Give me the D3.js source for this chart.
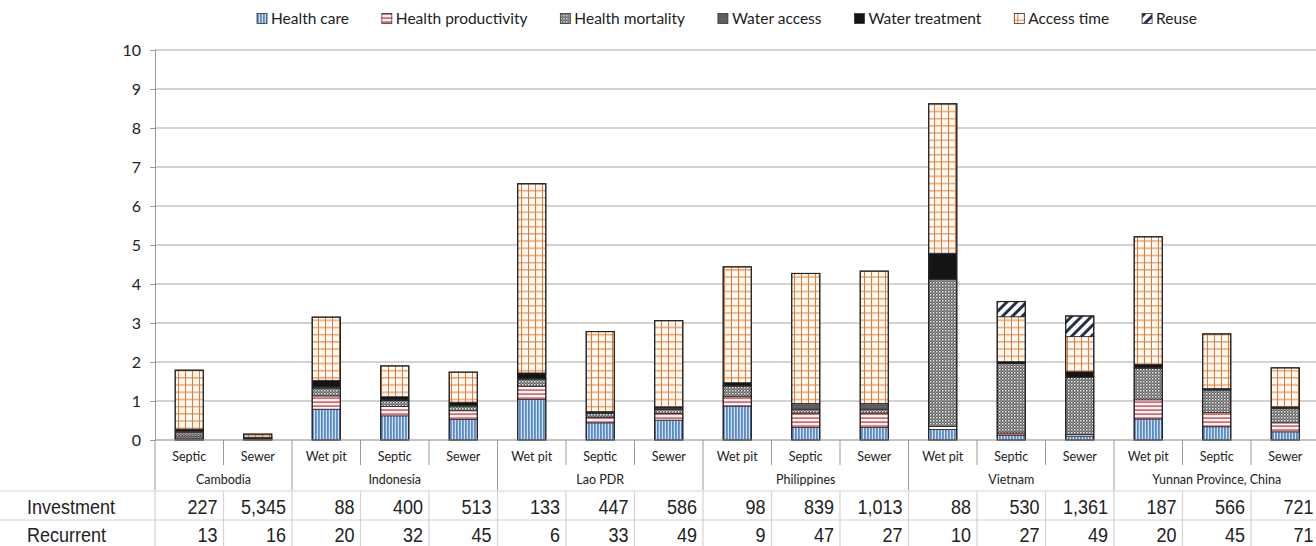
<!DOCTYPE html>
<html><head><meta charset="utf-8">
<script src="https://cdn.jsdelivr.net/npm/d3@7"></script>
<style>body{margin:0;background:#fff}svg{display:block}</style>
</head><body>
<svg id="c" width="1316" height="546"></svg>
<script>
const countries = ["Cambodia","Indonesia","Lao PDR","Philippines","Vietnam","Yunnan Province, China"];
const countryOf = [0,0,1,1,1,2,2,2,3,3,3,4,4,4,5,5,5];
const systems = ["Septic","Sewer","Wet pit","Septic","Sewer","Wet pit","Septic","Sewer","Wet pit","Septic","Sewer","Wet pit","Septic","Sewer","Wet pit","Septic","Sewer"];
const seriesNames = ["Health care","Health productivity","Health mortality","Water access","Water treatment","Access time","Reuse"];
const healthCare   = [0.05,0.01,0.79,0.62,0.53,1.04,0.44,0.51,0.87,0.32,0.32,0.27,0.12,0.10,0.54,0.34,0.21];
const healthProd   = [0.05,0.01,0.34,0.24,0.22,0.34,0.14,0.17,0.24,0.37,0.37,0.08,0.06,0.04,0.49,0.36,0.23];
const healthMort   = [0.10,0.01,0.20,0.15,0.12,0.18,0.10,0.10,0.27,0.10,0.10,3.77,1.78,1.47,0.81,0.58,0.37];
const waterAccess  = [0.03,0.01,0.03,0.02,0.02,0.02,0.02,0.04,0.02,0.15,0.15,0.00,0.00,0.00,0.02,0.02,0.02];
const waterTreat   = [0.05,0.03,0.17,0.08,0.08,0.14,0.03,0.03,0.07,0.00,0.00,0.67,0.05,0.14,0.08,0.02,0.02];
const accessTime   = [1.51,0.08,1.62,0.79,0.77,4.85,2.05,2.21,2.97,3.33,3.39,3.83,1.15,0.90,3.27,1.40,1.00];
const reuse        = [0,0,0,0,0,0,0,0,0,0,0,0,0.39,0.53,0,0,0];
const investment   = [227,5345,88,400,513,133,447,586,98,839,1013,88,530,1361,187,566,721];
const recurrent    = [13,16,20,32,45,6,33,49,9,47,27,10,27,49,20,45,71];
const yTicks = [0,1,2,3,4,5,6,7,8,9,10];
const rowLabels = ["Investment","Recurrent"];

const seriesValues = [healthCare,healthProd,healthMort,waterAccess,waterTreat,accessTime,reuse];
const keys = d3.range(seriesNames.length).map(String);
const table = systems.map((s,i)=>{const o={i}; seriesValues.forEach((arr,k)=>o[k]=arr[i]); return o;});

const svg = d3.select("#c");
const defs = svg.append("defs");
function pat(id,w,h,build){const p=defs.append("pattern").attr("id",id).attr("patternUnits","userSpaceOnUse").attr("width",w).attr("height",h);build(p);}
pat("p0",3,3,p=>{p.append("rect").attr("width",3).attr("height",3).attr("fill","#cfe1f4");p.append("rect").attr("x",0).attr("width",1.8).attr("height",3).attr("fill","#5a8bc6");});
pat("p1",4,4,p=>{p.append("rect").attr("width",4).attr("height",4).attr("fill","#fff");p.append("rect").attr("y",1.3).attr("width",4).attr("height",1.6).attr("fill","#e5545a");});
pat("p2",3,3,p=>{p.append("rect").attr("width",3).attr("height",3).attr("fill","#5a5a5a");p.append("rect").attr("x",0).attr("y",0).attr("width",1.5).attr("height",1.5).attr("fill","#f0f0f0");p.append("rect").attr("x",1.5).attr("y",1.5).attr("width",1.5).attr("height",1.5).attr("fill","#9a9a9a");});
pat("p3",4,4,p=>{p.append("rect").attr("width",4).attr("height",4).attr("fill","#5e5e5e");});
pat("p4",4,4,p=>{p.append("rect").attr("width",4).attr("height",4).attr("fill","#151515");});
pat("p5",7,7.2,p=>{p.append("rect").attr("width",7).attr("height",7.2).attr("fill","#fffaf4");p.append("rect").attr("x",3).attr("width",1).attr("height",7.2).attr("fill","#e8782f");p.append("rect").attr("y",3).attr("width",7).attr("height",1).attr("fill","#e8782f");});
const rp=defs.append("pattern").attr("id","p6").attr("patternUnits","userSpaceOnUse").attr("width",7).attr("height",7).attr("patternTransform","rotate(45)");
rp.append("rect").attr("width",7).attr("height",7).attr("fill","#fff");
rp.append("rect").attr("width",3).attr("height",7).attr("fill","#23304d");

const x = d3.scaleBand().domain(d3.range(systems.length)).range([155,1319.5]).paddingInner(0.59).paddingOuter(0.295);
const y = d3.scaleLinear().domain([0,10]).range([440,50]);

svg.append("g").selectAll("line").data(yTicks.filter(t=>t>0)).join("line")
  .attr("x1",155).attr("x2",1316).attr("y1",d=>y(d)).attr("y2",d=>y(d))
  .attr("stroke","#a6a6a6").attr("stroke-width",1.2);

const yAxis = svg.append("g").attr("transform","translate(155,0)").call(d3.axisLeft(y).tickValues(yTicks).tickSize(5).tickPadding(9));
yAxis.select(".domain").attr("stroke","#999");
yAxis.selectAll(".tick line").attr("stroke","#999");
yAxis.selectAll("text").attr("font-family","Lato, 'Open Sans', sans-serif").attr("font-size",16).attr("fill","#222");

const stack = d3.stack().keys(keys)(table);
svg.append("g").selectAll("g").data(stack).join("g")
  .attr("fill",(d,k)=>`url(#p${k})`)
  .selectAll("rect").data(d=>d.filter(s=>s[1]-s[0]>0)).join("rect")
  .attr("x",d=>x(d.data.i)).attr("width",x.bandwidth())
  .attr("y",d=>y(d[1])).attr("height",d=>y(d[0])-y(d[1]))
  .attr("stroke","#2a2a2a").attr("stroke-width",0.8);
svg.append("g").selectAll("rect").data(table).join("rect")
  .attr("x",d=>x(d.i)).attr("width",x.bandwidth())
  .attr("y",d=>y(d3.sum(keys,k=>d[k]))).attr("height",d=>y(0)-y(d3.sum(keys,k=>d[k])))
  .attr("fill","none").attr("stroke","#222").attr("stroke-width",1.2);

svg.append("line").attr("x1",155).attr("x2",1316).attr("y1",y(0)).attr("y2",y(0)).attr("stroke","#888").attr("stroke-width",1.2);

const step = x.step();
const bounds = d3.range(systems.length+1);
svg.append("g").selectAll("line").data(bounds).join("line")
  .attr("x1",i=>155+i*step).attr("x2",i=>155+i*step)
  .attr("y1",y(0))
  .attr("y2",i=>(i===0||i===systems.length||countryOf[i]!==countryOf[i-1])?490:465)
  .attr("stroke","#999").attr("stroke-width",1);

const labFont = "Lato, 'Open Sans', sans-serif";
svg.append("g").selectAll("text").data(systems).join("text")
  .attr("x",(d,i)=>x(i)+x.bandwidth()/2).attr("y",461)
  .attr("text-anchor","middle").attr("font-family",labFont).attr("font-size",12.5).attr("fill","#222").text(d=>d);

const cInfo = countries.map((c,ci)=>{const idx=countryOf.map((v,i)=>v===ci?i:-1).filter(i=>i>=0);return {c,first:idx[0],last:idx[idx.length-1]};});
svg.append("g").selectAll("text").data(cInfo).join("text")
  .attr("x",d=>(155+d.first*step+155+(d.last+1)*step)/2).attr("y",484)
  .attr("text-anchor","middle").attr("font-family",labFont).attr("font-size",12.5).attr("fill","#222").text(d=>d.c);

const tg = svg.append("g");
[491,520].forEach(yy=>tg.append("line").attr("x1",0).attr("x2",1316).attr("y1",yy).attr("y2",yy).attr("stroke","#d4d4d4").attr("stroke-width",1.2));
tg.selectAll("line.v").data(bounds).join("line").attr("class","v")
  .attr("x1",i=>155+i*step).attr("x2",i=>155+i*step).attr("y1",491).attr("y2",546)
  .attr("stroke","#d4d4d4").attr("stroke-width",1.2);
const fmt = d3.format(",");
const tblFont = "'Liberation Sans', Arial, sans-serif";
[investment,recurrent].forEach((arr,r)=>{
  const by = r===0?514:542;
  tg.append("text").attr("transform",`translate(27,${by}) scale(1,1.1)`).attr("font-family",tblFont).attr("font-size",18).attr("fill","#222").text(rowLabels[r]);
  tg.append("g").selectAll("text").data(arr).join("text")
    .attr("transform",(d,i)=>`translate(${155+(i+1)*step-6},${by}) scale(1,1.1)`)
    .attr("text-anchor","end").attr("font-family",tblFont).attr("font-size",18).attr("fill","#222").text(d=>fmt(d));
});

const lg = svg.append("g");
const items = lg.selectAll("g").data(seriesNames).join("g");
items.append("rect").attr("width",10).attr("height",10).attr("y",-10.5).attr("fill",(d,k)=>`url(#p${k})`).attr("stroke","#333").attr("stroke-width",0.8);
items.append("text").attr("x",14).attr("y",0).attr("font-family",labFont).attr("font-size",15.5).attr("fill","#222").text(d=>d);
const widths = items.nodes().map(n=>14+n.querySelector("text").getComputedTextLength());
const startX=257, endX=1197;
const gap = (endX-startX-d3.sum(widths))/(widths.length-1);
let cx=startX;
items.each(function(d,k){d3.select(this).attr("transform",`translate(${cx},24)`);cx+=widths[k]+gap;});
</script>
</body></html>
